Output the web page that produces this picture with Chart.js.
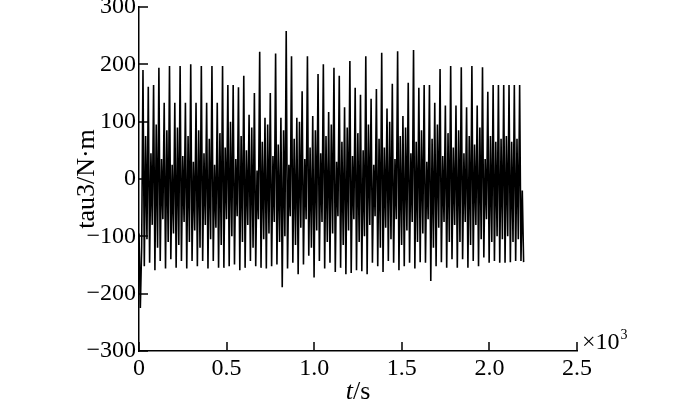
<!DOCTYPE html>
<html>
<head>
<meta charset="utf-8">
<title>tau3</title>
<script src="https://cdn.jsdelivr.net/npm/chart.js@4.4.1/dist/chart.umd.min.js"></script>
<style>
  html, body { margin: 0; padding: 0; background: #fff; }
  #wrap { width: 700px; height: 402px; }
</style>
</head>
<body>
<div id="wrap"><canvas id="tauChart" width="700" height="402"></canvas></div>
<script>
// Joint torque tau3 over time (x axis in units of 10^3 s)

// sample spacing of the recorded series, in 10^3 s
const SAMPLE_STEP = 0.00757;

// tau3 samples (N·m): short lead-in, then one row per oscillation:
// peak, trough, mid bump, mid dip
const tau3 = [
  -95, -225, -120,
  190, -152, 75, -105,
  161, -146, 45, -80,
  164, -159, 95, -120,
  194, -143, 35, -70,
  133, -156, 85, -110,
  197, -140, 25, -95,
  133, -155, 90, -115,
  197, -143, 40, -75,
  133, -156, 75, -110,
  200, -143, 30, -90,
  133, -152, 85, -120,
  197, -143, 45, -80,
  133, -156, 70, -105,
  197, -143, 25, -85,
  133, -155, 80, -115,
  197, -155, 55, -70,
  164, -152, 100, -100,
  164, -149, 35, -65,
  160, -159, 75, -110,
  180, -155, 50, -80,
  112, -143, 90, -120,
  150, -152, 15, -70,
  222, -155, 65, -105,
  107, -156, 95, -95,
  150, -152, 40, -75,
  219, -149, 60, -110,
  107, -189, 85, -100,
  258, -156, 25, -65,
  214, -146, 70, -115,
  107, -166, 100, -85,
  153, -149, 35, -70,
  214, -134, 55, -120,
  110, -172, 85, -90,
  183, -143, 45, -75,
  200, -156, 75, -110,
  117, -146, 95, -95,
  194, -162, 30, -65,
  180, -155, 65, -115,
  125, -166, 90, -90,
  206, -164, 40, -70,
  159, -159, 80, -110,
  147, -161, 50, -100,
  214, -166, 95, -80,
  140, -146, 25, -65,
  157, -152, 70, -120,
  220, -162, 55, -85,
  123, -143, 100, -105,
  166, -146, 35, -70,
  223, -159, 75, -115,
  110, -152, 90, -90,
  168, -146, 45, -75,
  225, -156, 65, -110,
  159, -145, 85, -95,
  164, -146, 30, -70,
  164, -178, 70, -120,
  133, -152, 95, -85,
  192, -145, 40, -75,
  128, -155, 80, -110,
  197, -140, 55, -80,
  128, -155, 85, -110,
  195, -140, 45, -75,
  125, -155, 75, -115,
  197, -143, 60, -80,
  128, -152, 90, -105,
  195, -137, 35, -70,
  152, -146, 75, -110,
  164, -143, 65, -100,
  164, -146, 70, -105,
  164, -146, 75, -100,
  164, -145, 65, -110,
  164, -143, 70, -105,
  164, -143, -20, -145,
];

// axis ranges and tick values
const X_MIN = 0, X_MAX = 2.5, X_STEP = 0.5;
const Y_MIN = -300, Y_MAX = 300, Y_STEP = 100;

const FONT = '"Liberation Serif", "Times New Roman", serif';
const FONT_SIZE = 24;
const TITLE_SIZE = 26;
const TICK_LEN = 9;

(function () {
  const points = tau3.map((v, i) => ({ x: i * SAMPLE_STEP, y: v }));

  // inward tick marks, drawn from the scales' own tick positions
  const innerTicksPlugin = {
    id: 'innerTicks',
    afterDatasetsDraw(chart) {
      const { ctx, chartArea } = chart;
      const xs = chart.scales.x;
      const ys = chart.scales.y;
      ctx.save();
      ctx.strokeStyle = '#000';
      ctx.lineWidth = 1.5;
      ctx.beginPath();
      xs.ticks.forEach((t) => {
        const px = Math.round(xs.getPixelForValue(t.value));
        ctx.moveTo(px, chartArea.bottom);
        ctx.lineTo(px, chartArea.bottom - TICK_LEN);
      });
      ys.ticks.forEach((t) => {
        const py = Math.round(ys.getPixelForValue(t.value));
        ctx.moveTo(chartArea.left, py);
        ctx.lineTo(chartArea.left + TICK_LEN, py);
      });
      ctx.stroke();
      ctx.restore();
    },
  };

  // "t/s" (italic t) under the axis and the x10^3 factor at its end
  const axisTextPlugin = {
    id: 'axisText',
    afterDraw(chart) {
      const { ctx, chartArea } = chart;
      const xs = chart.scales.x;
      ctx.save();
      ctx.fillStyle = '#000';
      ctx.textBaseline = 'alphabetic';
      ctx.textAlign = 'left';

      // x title
      const cx = (chartArea.left + chartArea.right) / 2;
      const base = 399;
      ctx.font = `italic ${TITLE_SIZE}px ${FONT}`;
      const wT = ctx.measureText('t').width;
      ctx.font = `${TITLE_SIZE}px ${FONT}`;
      const wS = ctx.measureText('/s').width;
      const x0 = cx - (wT + wS) / 2;
      ctx.font = `italic ${TITLE_SIZE}px ${FONT}`;
      ctx.fillText('t', x0, base);
      ctx.font = `${TITLE_SIZE}px ${FONT}`;
      ctx.fillText('/s', x0 + wT, base);

      // multiplier
      const mx = xs.getPixelForValue(X_MAX) + 5;
      ctx.font = `${FONT_SIZE}px ${FONT}`;
      ctx.fillText('\u00d710', mx, 349);
      const w10 = ctx.measureText('\u00d710').width;
      ctx.font = `14px ${FONT}`;
      ctx.fillText('3', mx + w10 + 1, 339);
      ctx.restore();
    },
  };

  new Chart(document.getElementById('tauChart').getContext('2d'), {
    type: 'line',
    data: {
      datasets: [
        {
          data: points,
          borderColor: '#000',
          borderWidth: 1.6,
          pointRadius: 0,
          tension: 0,
          fill: false,
        },
      ],
    },
    options: {
      responsive: false,
      animation: false,
      devicePixelRatio: 1,
      layout: { padding: { left: 0, right: 123, top: 7, bottom: 0 } },
      scales: {
        x: {
          type: 'linear',
          min: X_MIN,
          max: X_MAX,
          grid: { drawOnChartArea: false, drawTicks: false },
          border: { display: true, color: '#000', width: 1.5 },
          ticks: {
            stepSize: X_STEP,
            color: '#000',
            padding: 6,
            maxRotation: 0,
            font: { family: FONT, size: FONT_SIZE, lineHeight: 1 },
            callback: (v) => (v === 0 ? '0' : Number(v).toFixed(1)),
          },
          afterFit(scale) {
            scale.height = 51;
            scale.paddingLeft = 0;
            scale.paddingRight = 0;
          },
        },
        y: {
          min: Y_MIN,
          max: Y_MAX,
          grid: { drawOnChartArea: false, drawTicks: false },
          border: { display: true, color: '#000', width: 1.5 },
          ticks: {
            stepSize: Y_STEP,
            color: '#000',
            padding: 3,
            font: { family: FONT, size: FONT_SIZE, lineHeight: 1 },
            callback: (v) => (v < 0 ? '\u2212' + Math.abs(v) : String(v)),
          },
          title: {
            display: true,
            text: 'tau3/N\u00b7m',
            color: '#000',
            padding: { top: 74, bottom: 0 },
            font: { family: FONT, size: TITLE_SIZE, lineHeight: 1 },
          },
          afterFit(scale) {
            scale.width = 139;
            scale.paddingTop = 0;
            scale.paddingBottom = 0;
          },
        },
      },
      plugins: {
        legend: { display: false },
        tooltip: { enabled: false },
      },
    },
    plugins: [innerTicksPlugin, axisTextPlugin],
  });
})();
</script>
</body>
</html>
